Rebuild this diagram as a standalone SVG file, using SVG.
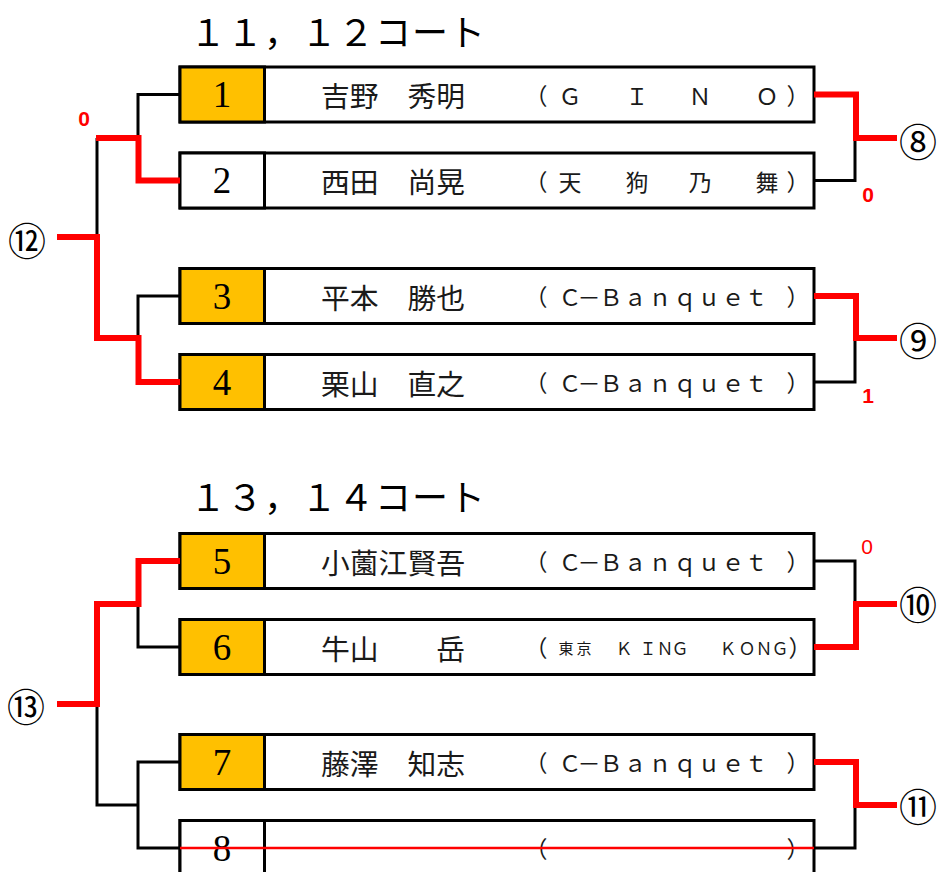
<svg xmlns="http://www.w3.org/2000/svg" width="938" height="872" viewBox="0 0 938 872">
<style>
.bg{fill:#ffffff}
.box{fill:#ffffff;stroke:#000000;stroke-width:3}
.num{fill:#FFC000;stroke:#000000;stroke-width:3}
.numw{fill:#ffffff;stroke:#000000;stroke-width:3}
.digit{font-family:"Liberation Serif",serif;font-size:37px;fill:#000000;text-anchor:middle}
.name{font-family:"Noto Sans CJK JP",sans-serif;font-size:28.8px;fill:#1a1a1a;dominant-baseline:central}
.team{font-family:"Noto Sans CJK JP",sans-serif;font-size:23px;fill:#1a1a1a;text-anchor:middle;dominant-baseline:central}
.title{font-family:"Noto Sans CJK JP",sans-serif;font-size:36px;letter-spacing:1px;fill:#000000;dominant-baseline:central}
.circ{font-family:"Noto Sans CJK JP",sans-serif;font-size:38px;fill:#000000;text-anchor:middle;dominant-baseline:central}
.score{font-family:"Liberation Sans",sans-serif;font-size:21px;font-weight:bold;fill:#FF0000;text-anchor:middle;dominant-baseline:central}
.scorer{font-family:"Liberation Sans",sans-serif;font-size:21px;fill:#FF0000;text-anchor:middle;dominant-baseline:central}
.blk{fill:none;stroke:#000000;stroke-width:3}
.red{fill:none;stroke:#FF0000;stroke-width:6;stroke-linejoin:miter}
.redthin{fill:none;stroke:#FF0000;stroke-width:2.5}
</style>
<rect class="bg" x="0" y="0" width="938" height="872"/>

<g id="title1"><text class="title" x="190" y="30">１１，１２コート</text></g>
<g id="title2"><text class="title" x="190" y="495">１３，１４コート</text></g>

<g id="box1">
<rect class="box" x="180" y="67" width="634" height="55"/>
<rect class="num" x="180" y="67" width="84.5" height="55"/>
<text class="digit" x="222" y="107">1</text>
<text class="name" x="321" y="94.5">吉野　秀明</text>
<text class="team" x="536 570 603 637 668 700 733 767 798" y="94.5">（Ｇ　Ｉ　Ｎ　Ｏ）</text>
</g>
<g id="box2">
<rect class="box" x="180" y="153" width="634" height="55"/>
<rect class="numw" x="180" y="153" width="84.5" height="55"/>
<text class="digit" x="222" y="193">2</text>
<text class="name" x="321" y="180.5">西田　尚晃</text>
<text class="team" x="536 570 603 637 668 700 733 767 798" y="180.5">（天　狗　乃　舞）</text>
</g>
<g id="box3">
<rect class="box" x="180" y="268.5" width="634" height="55"/>
<rect class="num" x="180" y="268.5" width="84.5" height="55"/>
<text class="digit" x="222" y="308.5">3</text>
<text class="name" x="321" y="296">平本　勝也</text>
<text class="team" x="536 570 589 611 635 660 685 709 733 756 798" y="296">（Ｃ－Ｂａｎｑｕｅｔ）</text>
</g>
<g id="box4">
<rect class="box" x="180" y="354.5" width="634" height="55"/>
<rect class="num" x="180" y="354.5" width="84.5" height="55"/>
<text class="digit" x="222" y="394.5">4</text>
<text class="name" x="321" y="382">栗山　直之</text>
<text class="team" x="536 570 589 611 635 660 685 709 733 756 798" y="382">（Ｃ－Ｂａｎｑｕｅｔ）</text>
</g>
<g id="box5">
<rect class="box" x="180" y="533.5" width="634" height="55"/>
<rect class="num" x="180" y="533.5" width="84.5" height="55"/>
<text class="digit" x="222" y="573.5">5</text>
<text class="name" x="321" y="561">小薗江賢吾</text>
<text class="team" x="536 570 589 611 635 660 685 709 733 756 798" y="561">（Ｃ－Ｂａｎｑｕｅｔ）</text>
</g>
<g id="box6">
<rect class="box" x="180" y="619.5" width="634" height="55"/>
<rect class="num" x="180" y="619.5" width="84.5" height="55"/>
<text class="digit" x="222" y="659.5">6</text>
<text class="name" x="321" y="647">牛山　　岳</text>
<text class="team" y="647"><tspan x="536">（</tspan><tspan x="566 584" style="font-size:15px">東京</tspan><tspan x="624 648 665 680 704 728 747 764 780" style="font-size:17px">ＫＩＮＧ　ＫＯＮＧ</tspan><tspan x="800">）</tspan></text>
</g>
<g id="box7">
<rect class="box" x="180" y="734.5" width="634" height="55"/>
<rect class="num" x="180" y="734.5" width="84.5" height="55"/>
<text class="digit" x="222" y="774.5">7</text>
<text class="name" x="321" y="762">藤澤　知志</text>
<text class="team" x="536 570 589 611 635 660 685 709 733 756 798" y="762">（Ｃ－Ｂａｎｑｕｅｔ）</text>
</g>
<g id="box8">
<rect class="box" x="180" y="820.5" width="634" height="55"/>
<rect class="numw" x="180" y="820.5" width="84.5" height="55"/>
<text class="digit" x="222" y="860.5">8</text>
<text class="team" x="536 798" y="848">（）</text>
</g>

<g id="connectors">
<path class="blk" d="M180,94.5 H138 V138"/>
<path class="blk" d="M97,138 V237"/>
<path class="blk" d="M180,296 H138 V338"/>
<path class="blk" d="M814,180.5 H855 V138"/>
<path class="blk" d="M814,382 H855 V338"/>
<path class="blk" d="M180,647 H138 V604"/>
<path class="blk" d="M97,704 V805 H138"/>
<path class="blk" d="M180,762 H138 V848 H180"/>
<path class="blk" d="M814,561 H855 V604"/>
<path class="blk" d="M814,848 H855 V805"/>
<path class="red" d="M96,138 H138.5 V180.5 H180"/>
<path class="red" d="M57,237 H97 V338 H138.5 V382 H180"/>
<path class="red" d="M814,94.5 H856 V138 H897"/>
<path class="red" d="M814,296 H856 V338 H897"/>
<path class="red" d="M57,704 H97 V604 H138.5 V561 H180"/>
<path class="red" d="M814,647 H856 V604 H897"/>
<path class="red" d="M814,762 H856 V805 H897"/>
<path class="redthin" d="M180,848 H814"/>
</g>

<g id="match12"><text class="circ" x="27" y="238">⑫</text></g>
<g id="match13"><text class="circ" x="26" y="704">⑬</text></g>
<g id="match8"><text class="circ" x="918" y="139">⑧</text></g>
<g id="match9"><text class="circ" x="918" y="338">⑨</text></g>
<g id="match10"><text class="circ" x="918" y="602">⑩</text></g>
<g id="match11"><text class="circ" x="918" y="804">⑪</text></g>

<g id="scores">
<text class="score" x="84" y="118">0</text>
<text class="score" x="868" y="194">0</text>
<text class="score" x="868" y="395">1</text>
<text class="scorer" x="867" y="546">0</text>
</g>
</svg>
